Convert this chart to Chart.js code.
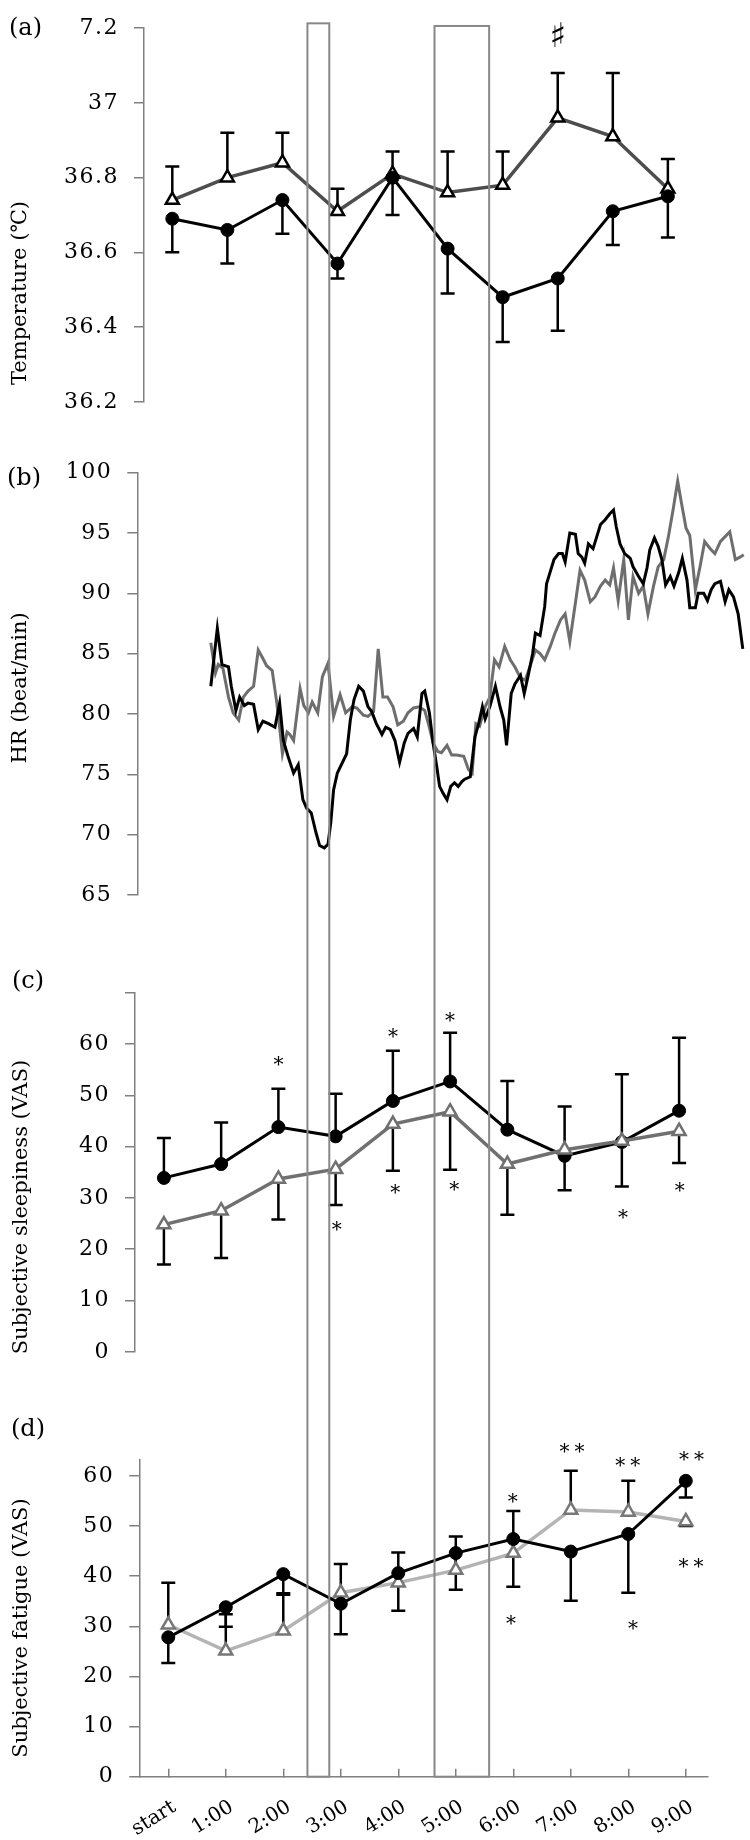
<!DOCTYPE html>
<html>
<head>
<meta charset="utf-8">
<script src="https://cdn.jsdelivr.net/npm/chart.js@4.4.1/dist/chart.umd.min.js"></script>
<style>
  html, body { margin: 0; padding: 0; background: #fff; }
  #wrap { position: relative; width: 750px; height: 1840px; }
  #wrap canvas { position: absolute; left: 0; }
  #overlay { pointer-events: none; }
</style>
</head>
<body>
<div id="wrap">
  <canvas id="chartA" width="750" height="430" style="top:0px"></canvas>
  <canvas id="chartB" width="750" height="500" style="top:430px"></canvas>
  <canvas id="chartC" width="750" height="450" style="top:930px"></canvas>
  <canvas id="chartD" width="750" height="460" style="top:1380px"></canvas>
  <canvas id="overlay" width="750" height="1840" style="top:0px"></canvas>
</div>
<script>
// ---- shared x categories ----
const hours = [0, 1, 2, 3, 4, 5, 6, 7, 8, 9];
const timeLabels = ['start', '1:00', '2:00', '3:00', '4:00', '5:00', '6:00', '7:00', '8:00', '9:00'];

// ---- (a) temperature ----
const tempDot    = [36.69, 36.66, 36.74, 36.57, 36.80, 36.61, 36.48, 36.53, 36.71, 36.75];
const tempDotCap = [36.60, 36.57, 36.65, 36.53, 36.70, 36.49, 36.36, 36.39, 36.62, 36.64];
const tempTri    = [36.74, 36.80, 36.84, 36.71, 36.81, 36.76, 36.78, 36.96, 36.91, 36.77];
const tempTriCap = [36.83, 36.92, 36.92, 36.77, 36.87, 36.87, 36.87, 37.08, 37.08, 36.85];
const tempTicks = [36.2, 36.4, 36.6, 36.8, 37, 37.2];
const tempTickLabels = ['36.2', '36.4', '36.6', '36.8', '37', '7.2'];

// ---- (b) heart rate, minutes from start ----
const hrDotMin = [41,48,53,60,63,68,72,77,81,87,92,97,103,110,115,119,124,130,135,140,144,149,154,158,163,167,170,
  173,177,182,187,191,195,200,205,210,214,219,225,229,234,239,244,249,253,259,263,268,271,276,280,284,287,291,295,
  299,303,307,311,314,320,325,329,333,336,341,347,352,356,359,364,368,374,378,382,387,390,395,400,402,406,410,415,
  419,422,427,433,436,440,443,447,452,456,460,465,470,474,477,481,486,492,495,501,506,510,513,518,522,526,530,535,
  539,544,548,553,556,562,565,571,575,579,583,589,594,598,603,608,613];
const hrDot = [82.3,87.1,84.1,83.9,82.3,80.3,81.4,80.7,80.9,80.8,78.7,79.4,79.2,78.9,80.9,77.8,76.5,75.1,75.8,72.9,
  72.2,71.8,70.2,69.1,68.9,69.2,71.0,73.7,75.1,75.9,76.7,79.5,81.2,82.3,81.9,80.6,80.2,79.2,78.3,78.9,78.7,77.8,
  76.0,77.6,78.4,78.8,78.1,81.7,81.9,80.1,77.6,75.6,74.0,73.4,72.9,74.0,74.3,74.0,74.4,74.6,74.8,78.1,79.2,80.6,
  79.6,80.6,82.3,80.6,79.5,77.4,81.7,82.5,83.2,81.7,83.1,85.0,86.7,86.5,88.9,90.8,91.8,92.8,93.3,93.3,92.6,95.0,
  94.9,93.3,93.0,92.5,94.1,93.7,94.7,95.7,96.1,96.6,96.9,95.5,94.1,93.3,92.9,92.2,91.4,90.8,92.1,93.6,94.6,93.9,
  92.8,90.7,91.4,90.6,91.7,92.9,91.1,88.8,88.8,90.0,90.0,89.4,90.3,90.8,91.0,89.3,90.3,89.7,88.3,85.4];
const hrTriMin = [41,46,49,54,60,65,71,76,81,87,92,97,101,107,112,115,118,123,126,130,137,141,146,150,156,161,167,
  173,180,186,193,198,205,210,216,221,226,231,237,242,248,253,259,265,271,276,280,285,289,295,300,305,313,318,322,
  326,330,336,341,346,351,357,363,368,374,379,384,390,395,400,406,411,417,422,427,433,438,443,449,454,460,465,470,
  474,479,485,490,495,501,506,511,517,522,528,533,538,543,547,552,556,562,567,572,578,583,589,594,599,605,610,614];
const hrTri = [85.9,83.4,84.1,83.8,81.4,80.1,79.5,81.4,81.9,82.3,85.3,84.6,84.0,83.6,80.9,78.9,76.7,78.5,78.3,77.8,
  82.1,80.7,80.1,81.0,80.1,83.1,84.2,79.8,81.6,80.1,80.6,80.5,79.9,79.8,80.2,85.4,81.4,81.4,80.6,79.1,79.4,80.1,
  80.5,80.6,80.3,78.9,77.6,76.9,76.8,77.4,76.6,76.6,76.5,75.4,75.1,79.2,79.0,80.6,81.4,84.5,83.9,85.6,84.5,83.9,
  83.0,82.8,83.9,85.3,85.0,84.5,85.6,86.7,87.8,88.3,86.0,89.2,91.9,91.1,89.3,89.7,90.6,91.1,90.7,92.1,89.4,92.8,
  87.8,91.4,90.0,90.6,88.3,90.6,92.2,92.8,94.7,96.9,99.3,97.5,95.4,94.8,90.3,92.2,94.3,93.7,93.3,94.3,94.7,95.1,
  92.8,93.0,93.2];
const hrTicks = [65, 70, 75, 80, 85, 90, 95, 100];

// ---- (c) subjective sleepiness ----
const sleepDot    = [33.9, 36.6, 43.8, 42.0, 48.9, 52.7, 43.3, 38.2, 40.9, 47.0];
const sleepDotCap = [41.7, 44.7, 51.3, 50.3, 58.7, 62.2, 52.8, 47.8, 54.1, 61.2];
const sleepTri    = [24.8, 27.5, 33.7, 35.6, 44.4, 46.8, 36.6, 39.4, 41.1, 43.0];
const sleepTriCap = [17.0, 18.3, 25.8, 28.6, 35.3, 35.5, 26.7, 31.5, 32.2, 36.8];
const sleepTicks = [0, 10, 20, 30, 40, 50, 60, 70];
const sleepStarX = [2, 3.02, 4, 4.04, 5, 5.07, 8.02, 9.01];
const sleepStarY = [56.8, 24.5, 62.2, 31.8, 65.4, 32.3, 26.9, 32.2];
const sleepStarT = ['*', '*', '*', '*', '*', '*', '*', '*'];

// ---- (d) subjective fatigue ----
const fatDot    = [27.8, 33.8, 40.4, 34.5, 40.6, 44.6, 47.4, 44.9, 48.4, 59.0];
const fatDotCap = [22.7, 29.9, 36.3, 28.4, 33.1, 37.3, 37.9, 35.1, 36.7, 55.7];
const fatTri    = [30.3, 25.1, 29.1, 36.7, 38.7, 41.2, 44.6, 53.2, 52.8, 50.9];
const fatTriCap = [38.7, 32.4, 36.6, 42.4, 44.7, 47.9, 53.0, 61.0, 59.0, 50.0];
const fatTicks = [0, 10, 20, 30, 40, 50, 60];
const fatStarX = [5.99, 5.96, 7.02, 7.99, 8.08, 9.10, 9.09];
const fatStarY = [55.7, 31.3, 65.5, 62.8, 30.3, 64.0, 42.6];
const fatStarT = ['*', '*', '**', '**', '*', '**', '**'];

// ---- shaded periods (hours on the bottom axis) ----
const rectStart = [2.42, 4.63];
const rectEnd   = [2.80, 5.58];
const rectTop   = [37.213, 37.206];   // in temperature units of panel (a)

const FONT = '"DejaVu Serif", "DejaVu Sans", serif';
const AXIS = '#808080';

function pts(xs, ys) {
  return xs.map((x, i) => ({ x: x, y: ys[i] }));
}

// the original figure is stretched sideways, so widen the tick text a little
const wideText = {
  id: 'wideText',
  beforeDraw(chart) { chart.ctx.letterSpacing = '1.5px'; },
  afterDraw(chart) { chart.ctx.letterSpacing = '0px'; }
};

// error bars: vertical line from the point to its cap value
const errorBars = {
  id: 'errorBars',
  beforeDatasetsDraw(chart) {
    const { ctx, scales: { x, y } } = chart;
    ctx.save();
    ctx.strokeStyle = '#000';
    ctx.lineWidth = 2.5;
    chart.data.datasets.forEach(ds => {
      if (!ds.caps) return;
      ds.data.forEach((p, i) => {
        const px = x.getPixelForValue(p.x);
        const y0 = y.getPixelForValue(p.y);
        const y1 = y.getPixelForValue(ds.caps[i]);
        ctx.beginPath();
        ctx.moveTo(px, y0);
        ctx.lineTo(px, y1);
        ctx.moveTo(px - 7, y1);
        ctx.lineTo(px + 7, y1);
        ctx.stroke();
      });
    });
    ctx.restore();
  }
};

// significance marks placed in data units
const marks = {
  id: 'marks',
  afterDatasetsDraw(chart, args, o) {
    if (!o.xs) return;
    const { ctx, scales: { x, y } } = chart;
    ctx.save();
    ctx.fillStyle = '#000';
    ctx.textAlign = 'center';
    ctx.textBaseline = 'middle';
    ctx.font = o.font || ('20px ' + FONT);
    o.xs.forEach((v, i) => {
      const t = o.texts[i];
      ctx.letterSpacing = t.length > 1 ? '5px' : '0px';
      ctx.fillText(t, x.getPixelForValue(v) + (t.length > 1 ? 2.5 : 0), y.getPixelForValue(o.ys[i]) + (o.dy || 0));
    });
    ctx.restore();
  }
};

// slanted hour labels under the bottom axis
const slantLabels = {
  id: 'slantLabels',
  afterDraw(chart, args, o) {
    if (!o.values) return;
    const { ctx, scales: { x } } = chart;
    ctx.save();
    ctx.letterSpacing = '0px';
    ctx.fillStyle = '#000';
    ctx.font = '20px ' + FONT;
    ctx.textAlign = 'right';
    ctx.textBaseline = 'middle';
    o.values.forEach((v, i) => {
      ctx.save();
      ctx.translate(x.getPixelForValue(v) + o.dx, x.top + o.dy);
      ctx.rotate(-o.angle * Math.PI / 180);
      ctx.fillText(o.labels[i], 0, 0);
      ctx.restore();
    });
    ctx.restore();
  }
};

// panel letter and rotated axis title
const frame = {
  id: 'frame',
  afterDraw(chart, args, o) {
    const ctx = chart.ctx;
    ctx.save();
    ctx.letterSpacing = '0px';
    ctx.fillStyle = '#000';
    ctx.font = '24px ' + FONT;
    ctx.textAlign = 'left';
    ctx.textBaseline = 'middle';
    ctx.fillText(o.letter, o.lx, o.ly);
    ctx.translate(o.tx, o.ty);
    ctx.rotate(-Math.PI / 2);
    ctx.font = '21px ' + FONT;
    ctx.textAlign = 'center';
    ctx.fillText(o.title, 0, 0);
    ctx.restore();
  }
};

function yAxis(min, max, ticks, labels, width) {
  return {
    type: 'linear',
    min: min,
    max: max,
    afterFit: s => { s.width = width; },
    afterBuildTicks: s => { s.ticks = ticks.map(v => ({ value: v })); },
    border: { display: true, color: AXIS, width: 1.5 },
    grid: { display: true, drawOnChartArea: false, drawTicks: true, tickLength: 10, color: AXIS, lineWidth: 1.5 },
    ticks: { padding: 15, color: '#000', font: { family: FONT, size: 22 }, callback: (v, i) => labels[i] }
  };
}

function hiddenX(min, max) {
  return { type: 'linear', display: false, min: min, max: max };
}

function baseOptions(padding, scales, plugins) {
  return {
    responsive: false,
    animation: false,
    events: [],
    layout: { padding: padding },
    scales: scales,
    plugins: Object.assign({ legend: { display: false }, tooltip: { enabled: false } }, plugins)
  };
}

const dotStyle = { borderColor: '#000', borderWidth: 3, pointStyle: 'circle', pointRadius: 6.5,
  pointBackgroundColor: '#000', pointBorderColor: '#000', pointBorderWidth: 1, tension: 0, clip: false };
function triStyle(line, edge) {
  return { borderColor: line, borderWidth: 3.5, pointStyle: 'triangle', pointRadius: 7.5,
    pointBackgroundColor: '#fff', pointBorderColor: edge, pointBorderWidth: 2.5, tension: 0, clip: false };
}

// (a)
const chartA = new Chart(document.getElementById('chartA'), {
  type: 'line',
  data: { datasets: [
    Object.assign({ data: pts(hours, tempDot), caps: tempDotCap }, dotStyle),
    Object.assign({ data: pts(hours, tempTri), caps: tempTriCap }, triStyle('#4d4d4d', '#000'))
  ] },
  options: baseOptions({ top: 15, bottom: 26, left: 0, right: 2 }, {
    x: hiddenX(-0.514, 10.31),
    y: yAxis(36.2, 37.2, tempTicks, tempTickLabels, 144)
  }, {
    marks: { xs: [7.0], ys: [37.174], texts: ['\u266F'], font: '34px "DejaVu Sans"' },
    frame: { letter: '(a)', lx: 9, ly: 29, title: 'Temperature (\u2103)', tx: 21, ty: 293 }
  }),
  plugins: [wideText, errorBars, marks, frame]
});

// (b)
const chartB = new Chart(document.getElementById('chartB'), {
  type: 'line',
  data: { datasets: [
    { data: pts(hrDotMin.map(m => m / 60), hrDot), borderColor: '#000', borderWidth: 3, pointRadius: 0, tension: 0 },
    { data: pts(hrTriMin.map(m => m / 60), hrTri), borderColor: '#6e6e6e', borderWidth: 3, pointRadius: 0, tension: 0 }
  ] },
  options: baseOptions({ top: 42.7, bottom: 35, left: 0, right: 2 }, {
    x: hiddenX(-0.634, 10.31),
    y: yAxis(65, 100, hrTicks, hrTicks.map(String), 137.3)
  }, {
    frame: { letter: '(b)', lx: 7, ly: 49, title: 'HR (beat/min)', tx: 21, ty: 258 }
  }),
  plugins: [wideText, frame]
});

// (c)
const chartC = new Chart(document.getElementById('chartC'), {
  type: 'line',
  data: { datasets: [
    Object.assign({ data: pts(hours, sleepTri), caps: sleepTriCap }, triStyle('#707070', '#707070')),
    Object.assign({ data: pts(hours, sleepDot), caps: sleepDotCap }, dotStyle)
  ] },
  options: baseOptions({ top: 62.7, bottom: 21, left: 0, right: 2 }, {
    x: hiddenX(-0.505, 10.064),
    y: yAxis(0, 70, sleepTicks, sleepTicks.map(v => v === 70 ? '' : String(v)), 135)
  }, {
    marks: { xs: sleepStarX, ys: sleepStarY, texts: sleepStarT, dy: 5 },
    frame: { letter: '(c)', lx: 12, ly: 52, title: 'Subjective sleepiness (VAS)', tx: 22, ty: 277 }
  }),
  plugins: [wideText, errorBars, marks, frame]
});

// (d)
const chartD = new Chart(document.getElementById('chartD'), {
  type: 'line',
  data: { datasets: [
    Object.assign({ data: pts(hours, fatDot), caps: fatDotCap }, dotStyle),
    Object.assign({ data: pts(hours, fatTri), caps: fatTriCap }, triStyle('#b4b4b4', '#777'))
  ] },
  options: baseOptions({ top: 79.3, bottom: 0, left: 0, right: 42.3 }, {
    x: {
      type: 'linear',
      min: -0.504,
      max: 9.381,
      afterFit: s => { s.height = 63.3; },
      afterBuildTicks: s => { s.ticks = hours.map(v => ({ value: v })); },
      border: { display: true, color: AXIS, width: 1.5 },
      grid: { display: true, drawOnChartArea: false, drawTicks: true, tickLength: -8, color: AXIS, lineWidth: 1.5 },
      ticks: { display: false }
    },
    y: yAxis(0, 63.3, fatTicks, fatTicks.map(String), 139.3)
  }, {
    marks: { xs: fatStarX, ys: fatStarY, texts: fatStarT, dy: 5 },
    slantLabels: { values: hours, labels: timeLabels, angle: 32, dx: 6, dy: 29 },
    frame: { letter: '(d)', lx: 11, ly: 50, title: 'Subjective fatigue (VAS)', tx: 22, ty: 248 }
  }),
  plugins: [wideText, errorBars, marks, slantLabels, frame]
});

// rectangles marking the two periods, spanning all panels
(function drawPeriods() {
  const ctx = document.getElementById('overlay').getContext('2d');
  const offD = 1380;
  const bottom = chartD.scales.y.getPixelForValue(0) + offD;
  ctx.strokeStyle = '#888';
  ctx.lineWidth = 2;
  rectStart.forEach((s, i) => {
    const x0 = chartD.scales.x.getPixelForValue(s);
    const x1 = chartD.scales.x.getPixelForValue(rectEnd[i]);
    const top = chartA.scales.y.getPixelForValue(rectTop[i]);
    ctx.strokeRect(x0, top, x1 - x0, bottom - top);
  });
})();
</script>
</body>
</html>
